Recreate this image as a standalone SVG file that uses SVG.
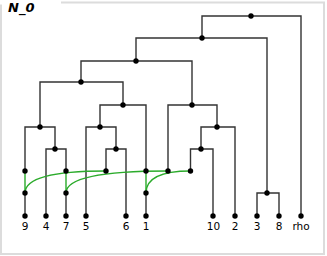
<svg xmlns="http://www.w3.org/2000/svg" width="327" height="256" viewBox="0 0 327 256">
<style>
.frame{fill:#fff;stroke:#dcdcdc;stroke-width:2}
.e{fill:none;stroke:#333;stroke-width:1.4}
.g{fill:none;stroke:#2bab2b;stroke-width:1.4}
.dot{fill:#000}
.lbl{font-family:"DejaVu Sans",sans-serif;font-size:10.5px;fill:#000;text-anchor:middle}
.title{font-family:"DejaVu Sans",sans-serif;font-size:13px;font-weight:bold;font-style:italic;fill:#000}
</style>
<rect class="frame" x="1" y="2.5" width="323" height="251.5"/>
<rect x="0" y="0" width="61" height="4.5" fill="#fff"/>
<text class="title" x="8" y="12">N_0</text>
<g id="connectors">
<path class="e" d="M251 16 H202 V38 M251 16 H301 V216"/>
<path class="e" d="M202 38 H136 V61 M202 38 H267 V193"/>
<path class="e" d="M136 61 H81 V82 M136 61 H192 V105"/>
<path class="e" d="M81 82 H40 V127 M81 82 H123 V105"/>
<path class="e" d="M123 105 H100 V127 M123 105 H146 V171"/>
<path class="e" d="M192 105 H168 V171 M192 105 H217 V127"/>
<path class="e" d="M40 127 H25 V171 M40 127 H55 V149"/>
<path class="e" d="M100 127 H86 V216 M100 127 H116 V149"/>
<path class="e" d="M217 127 H201 V149 M217 127 H235 V216"/>
<path class="e" d="M55 149 H46 V216 M55 149 H66 V171"/>
<path class="e" d="M116 149 H106 V171 M116 149 H126 V216"/>
<path class="e" d="M201 149 H190.5 V171 M201 149 H213 V216"/>
<path class="e" d="M267 193 H257 V216 M267 193 H279 V216"/>
<path class="e" d="M25 193 V216 M66 193 V216 M146 193 V216"/>
<path class="g" d="M25 171 V193 M66 171 V193 M146 171 V193"/>
<path class="g" d="M25 193 Q25 171 106 171"/>
<path class="g" d="M66 193 Q66 171 168 171"/>
<path class="g" d="M146 193 Q146 171 190.5 171"/>
</g>
<g id="n_root"><circle class="dot" cx="251" cy="16" r="2.7"/></g>
<g id="n1"><circle class="dot" cx="202" cy="38" r="2.7"/></g>
<g id="n2"><circle class="dot" cx="136" cy="61" r="2.7"/></g>
<g id="n3"><circle class="dot" cx="81" cy="82" r="2.7"/></g>
<g id="n4"><circle class="dot" cx="123" cy="105" r="2.7"/></g>
<g id="n5"><circle class="dot" cx="192" cy="105" r="2.7"/></g>
<g id="n6"><circle class="dot" cx="40" cy="127" r="2.7"/></g>
<g id="n7"><circle class="dot" cx="100" cy="127" r="2.7"/></g>
<g id="n8"><circle class="dot" cx="217" cy="127" r="2.7"/></g>
<g id="n9"><circle class="dot" cx="55" cy="149" r="2.7"/></g>
<g id="n10"><circle class="dot" cx="116" cy="149" r="2.7"/></g>
<g id="n11"><circle class="dot" cx="201" cy="149" r="2.7"/></g>
<g id="n12"><circle class="dot" cx="267" cy="193" r="2.7"/></g>
<g id="h_a"><circle class="dot" cx="25" cy="171" r="2.7"/></g>
<g id="h_b"><circle class="dot" cx="66" cy="171" r="2.7"/></g>
<g id="h_c"><circle class="dot" cx="106" cy="171" r="2.7"/></g>
<g id="h_d"><circle class="dot" cx="146" cy="171" r="2.7"/></g>
<g id="h_e"><circle class="dot" cx="168" cy="171" r="2.7"/></g>
<g id="h_f"><circle class="dot" cx="190.5" cy="171" r="2.7"/></g>
<g id="r1"><circle class="dot" cx="25" cy="193" r="2.7"/></g>
<g id="r2"><circle class="dot" cx="66" cy="193" r="2.7"/></g>
<g id="r3"><circle class="dot" cx="146" cy="193" r="2.7"/></g>
<g id="leaf_9"><circle class="dot" cx="25" cy="216" r="2.7"/><text class="lbl" x="25" y="230">9</text></g>
<g id="leaf_4"><circle class="dot" cx="46" cy="216" r="2.7"/><text class="lbl" x="46" y="230">4</text></g>
<g id="leaf_7"><circle class="dot" cx="66" cy="216" r="2.7"/><text class="lbl" x="66" y="230">7</text></g>
<g id="leaf_5"><circle class="dot" cx="86" cy="216" r="2.7"/><text class="lbl" x="86" y="230">5</text></g>
<g id="leaf_6"><circle class="dot" cx="126" cy="216" r="2.7"/><text class="lbl" x="126" y="230">6</text></g>
<g id="leaf_1"><circle class="dot" cx="146" cy="216" r="2.7"/><text class="lbl" x="146" y="230">1</text></g>
<g id="leaf_10"><circle class="dot" cx="213" cy="216" r="2.7"/><text class="lbl" x="213.5" y="230">10</text></g>
<g id="leaf_2"><circle class="dot" cx="235" cy="216" r="2.7"/><text class="lbl" x="235" y="230">2</text></g>
<g id="leaf_3"><circle class="dot" cx="257" cy="216" r="2.7"/><text class="lbl" x="257" y="230">3</text></g>
<g id="leaf_8"><circle class="dot" cx="279" cy="216" r="2.7"/><text class="lbl" x="279" y="230">8</text></g>
<g id="leaf_rho"><circle class="dot" cx="301" cy="216" r="2.7"/><text class="lbl" x="301" y="230">rho</text></g>
</svg>
